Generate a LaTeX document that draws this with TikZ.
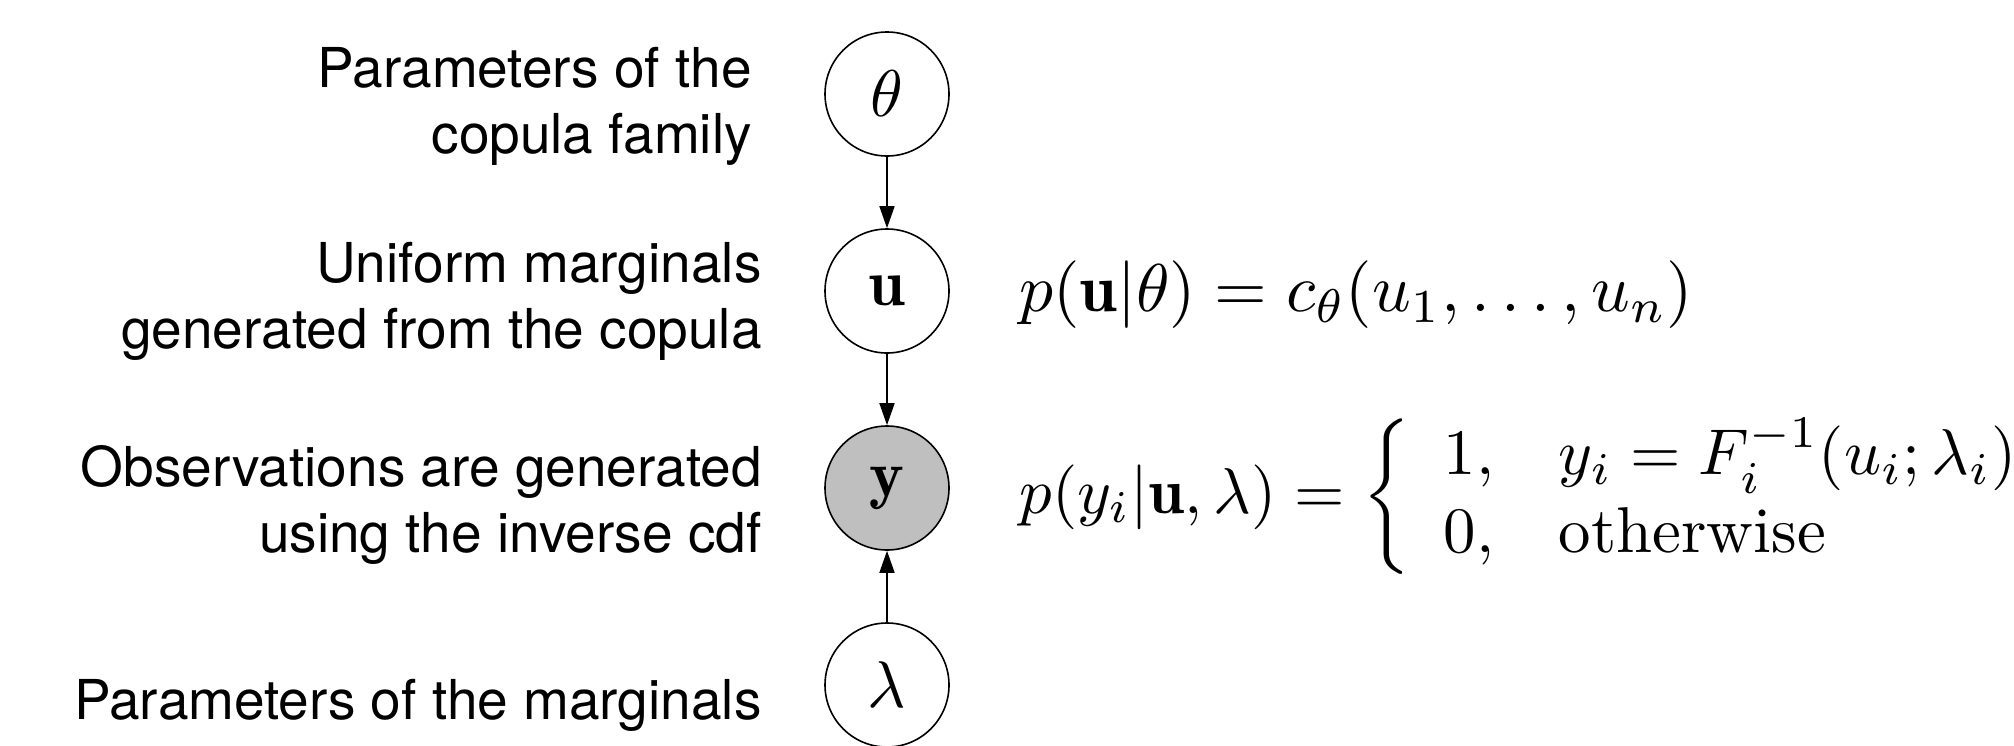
\documentclass[tikz,border=0pt]{standalone}
\usepackage{amsmath}
\usepackage{graphicx}
\usepackage{fontspec}
\newfontfamily\helv{TeX Gyre Heros}
\usetikzlibrary{arrows.meta}
\newcommand{\bigmath}[2][3.3]{\scalebox{#1}{$#2$}}
\begin{document}
\begin{tikzpicture}[x=0.5pt,y=-0.5pt,
  var/.style={circle,draw,line width=0.8pt,minimum size=62pt,inner sep=0pt},
  obs/.style={var,fill=black!25},
  lbl/.style={align=right,inner sep=0pt,anchor=base east,font=\helv\fontsize{27.5}{33}\selectfont},
  eqn/.style={anchor=west,inner sep=0pt},
  edge/.style={-{Triangle[length=11pt,width=7.5pt]},line width=0.8pt}]
\useasboundingbox (0,0) rectangle (2014,745);
\node[var] (theta) at (887,94) {\bigmath{\theta}};
\node[var] (u) at (887,291) {\bigmath{\mathbf{u}}};
\node[obs] (y) at (887,488) {\bigmath{\mathbf{y}}};
\node[var] (lambda) at (887,685) {\bigmath{\lambda}};
\draw[edge] (theta) -- (u);
\draw[edge] (u) -- (y);
\draw[edge] (lambda) -- (y);
\node[lbl] (l1) at (752,153) {Parameters of the\\copula family};
\node[lbl] (l2) at (762,348) {Uniform marginals\\generated from the copula};
\node[lbl] (l3) at (762,552) {Observations are generated\\using the inverse cdf};
\node[lbl] (l4) at (762,719) {Parameters of the marginals};
\node[eqn] (e1) at (1019,295) {\bigmath[3.38]{p(\mathbf{u}|\theta) = c_\theta(u_1,\ldots,u_n)}};
\node[eqn] (e2) at (1019,497) {\bigmath[3.24]{p(y_i|\mathbf{u},\lambda) = \left\{\begin{array}{ll} 1, & y_i = F_i^{-1}(u_i;\lambda_i)\\ 0, & \mbox{otherwise}\end{array}\right.}};
\end{tikzpicture}
\end{document}
